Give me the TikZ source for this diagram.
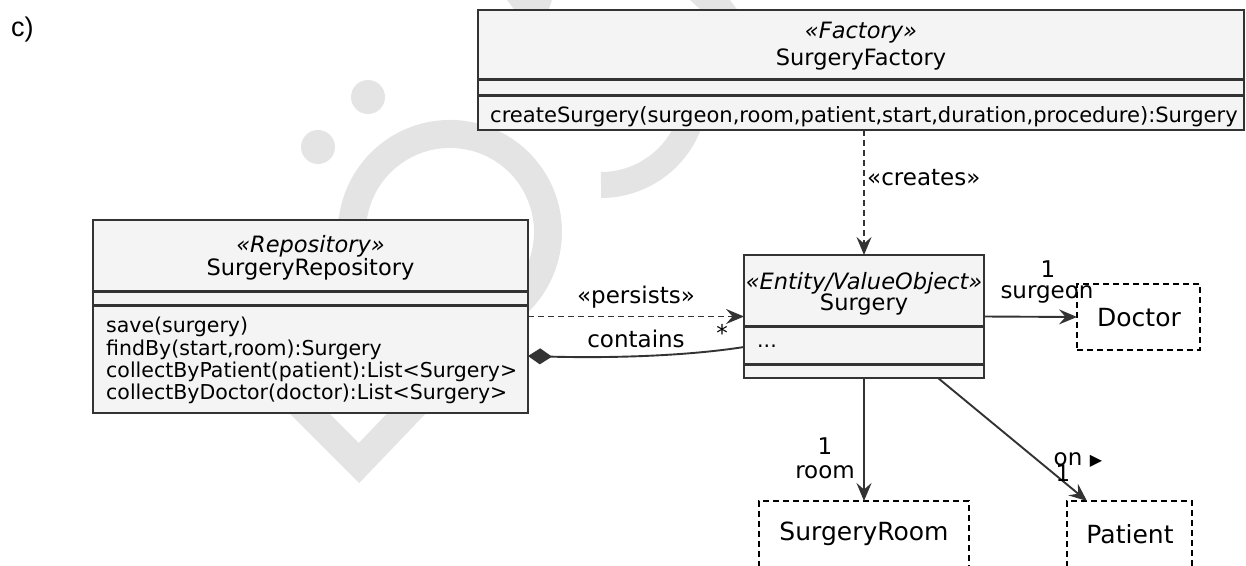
\documentclass[tikz,border=0pt]{standalone}
\usepackage{fontspec}
\setmainfont{DejaVu Sans}
\newfontfamily\captionfont{Liberation Sans}
\usetikzlibrary{arrows.meta,calc}
\definecolor{boxfill}{HTML}{F4F4F4}
\definecolor{boxline}{HTML}{333333}
\definecolor{wmgray}{HTML}{E4E4E4}
\newcommand{\fsTitle}{\fontsize{22.5}{26}\selectfont}
\newcommand{\fsBody}{\fontsize{20.5}{22.3}\selectfont}
\newcommand{\fsWide}{\fontsize{21.05}{24}\selectfont}
\newcommand{\fsLabel}{\fontsize{23}{26}\selectfont}
\newcommand{\fsRef}{\fontsize{25}{28}\selectfont}
\begin{document}
\begin{tikzpicture}[x=1pt,y=-1pt,
  classbox/.style={draw=boxline, fill=boxfill, line width=2.4pt, inner sep=0pt, outer sep=0pt, rectangle},
  dashbox/.style={draw=black, dash pattern=on 6pt off 4pt, line width=1.5pt, inner sep=0pt, outer sep=0pt, rectangle},
  sepline/.style={draw=boxline, line width=3pt},
  titletext/.style={inner sep=0pt, font=\fsTitle},
  stereotext/.style={inner sep=0pt, font=\fsTitle\itshape},
  membertext/.style={inner sep=0pt, font=\fsBody, anchor=west},
  reftext/.style={inner sep=0pt, font=\fsRef},
  lbl/.style={inner sep=0pt, font=\fsLabel},
  conn/.style={draw=boxline, line width=1.9pt},
  dep/.style={conn, dash pattern=on 6pt off 4pt},
  headtip/.style={-{Stealth[length=18pt,width=15pt,inset=6.5pt]}},
  wm/.style={wmgray}
]
\path[use as bounding box] (0,0) rectangle (1246,565);
\clip (0,0) rectangle (1246,565);

% watermark
\fill[wm] (368,97) circle[radius=17];
\fill[wm] (318,147) circle[radius=17];
\draw[wm, line width=28pt, line join=miter] (359,463) -- (290,394) -- (352.7,220) arc[start angle=187, end angle=420, radius=98] -- cycle;
\draw[wm, line width=26pt] (601,185) arc[start angle=90, end angle=-10, radius=94];
\fill[wm] (507,0) -- (552,0) -- (545,20) -- (522,20) -- cycle;
\fill[wm] (690,0) -- (730,0) -- (745,20) -- (712,20) -- cycle;

% caption
\node[inner sep=0pt, anchor=west, font=\captionfont\fontsize{27}{30}\selectfont] (caption) at (11,30) {c)};

% Factory
\node[classbox, minimum width=766pt, minimum height=120pt] (factory) at (861,70) {};
\draw[sepline] (factory.west |- 0,79) -- (factory.east |- 0,79);
\draw[sepline] (factory.west |- 0,95) -- (factory.east |- 0,95);
\node[stereotext] (factstereo) at (861,33) {«Factory»};
\node[titletext] (factname) at (861,59) {SurgeryFactory};
\node[membertext, font=\fsWide] (factmethod) at (490,117) {createSurgery(surgeon,room,patient,start,duration,procedure):Surgery};

% Repository
\node[classbox, minimum width=435pt, minimum height=193pt] (repo) at (310.5,316.5) {};
\draw[sepline] (repo.west |- 0,291) -- (repo.east |- 0,291);
\draw[sepline] (repo.west |- 0,305) -- (repo.east |- 0,305);
\node[stereotext] (repostereo) at (310.5,246) {«Repository»};
\node[titletext] (reponame) at (310.5,269) {SurgeryRepository};
\node[membertext, align=left] (repomethods) at (106,360.5) {save(surgery)\\findBy(start,room):Surgery\\collectByPatient(patient):List<Surgery>\\collectByDoctor(doctor):List<Surgery>};

% Surgery
\node[classbox, minimum width=240pt, minimum height=123pt] (surgery) at (864,316.5) {};
\draw[sepline] (surgery.west |- 0,326) -- (surgery.east |- 0,326);
\draw[sepline] (surgery.west |- 0,364) -- (surgery.east |- 0,364);
\node[stereotext] (surgstereo) at (864,283) {«Entity/ValueObject»};
\node[titletext] (surgname) at (864,304) {Surgery};
\node[membertext] (surgattr) at (757,346) {...};

% Dashed boxes
\node[dashbox, minimum width=123pt, minimum height=66pt] (doctor) at (1138.5,317) {};
\node[reftext] (doctortext) at (1139,318) {Doctor};
\node[dashbox, minimum width=210pt, minimum height=100pt] (room) at (864,551) {};
\node[reftext] (roomtext) at (864,534) {SurgeryRoom};
\node[dashbox, minimum width=125pt, minimum height=100pt] (patient) at (1129.5,551) {};
\node[reftext] (patienttext) at (1130,534) {Patient};

% connectors
\draw[dep, headtip] (surgery.north |- factory.south) -- (surgery.north);
\node[lbl, anchor=west] (createslbl) at (867,178) {«creates»};

\draw[dep, headtip] (repo.east) -- (repo.east -| surgery.west);
\node[lbl] (persistslbl) at (636,297) {«persists»};

\draw[conn, -{Diamond[length=24pt,width=16pt]}] ([yshift=-30.5pt]surgery.west) .. controls (680,357) and (600,358) .. ([yshift=-39.5pt]repo.east);
\node[lbl] (containslbl) at (636,339) {contains};
\node[lbl] (containsmult) at (722,333) {*};

\draw[conn, headtip] (surgery.east) -- (doctor.west);
\node[lbl] (docmult) at (1048,269) {1};
\node[lbl] (docrole) at (1047,294) {surgeon};

\draw[conn, headtip] (surgery.south) -- (room.north);
\node[lbl] (roommult) at (825,446) {1};
\node[lbl] (roomrole) at (825,472) {room};

\draw[conn, headtip] ([xshift=-46pt]surgery.south east) -- ([xshift=-42.5pt]patient.north);
\node[lbl] (patientrole) at (1068,459) {on};
\node[inner sep=0pt, font=\fontsize{16}{18}\selectfont] (patientdir) at (1096,461) {▶};
\node[lbl] (patientmult) at (1063,473) {1};
\end{tikzpicture}
\end{document}
